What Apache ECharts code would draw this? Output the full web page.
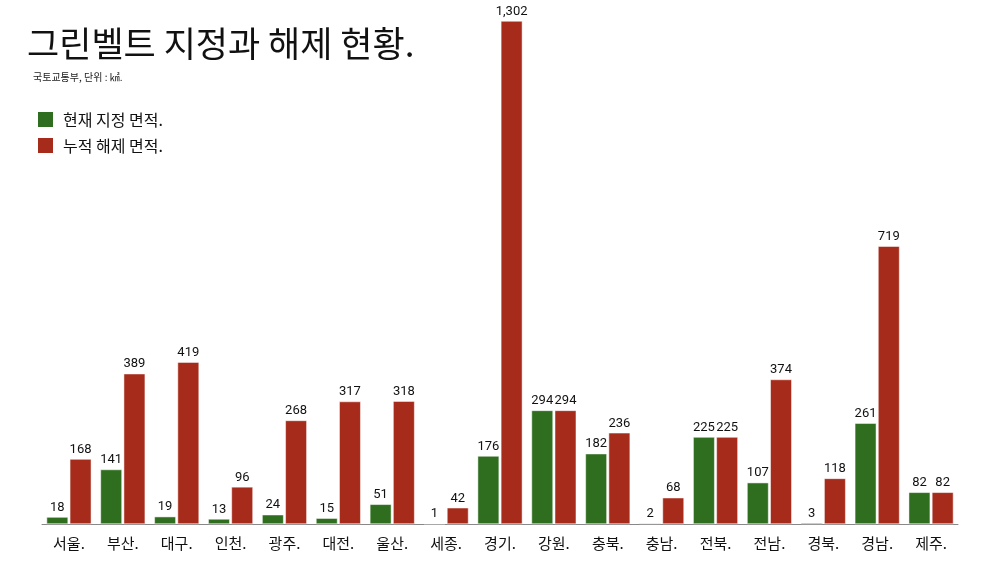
<!DOCTYPE html>
<html>
<head>
<meta charset="utf-8">
<script src="https://cdn.jsdelivr.net/npm/echarts@6/dist/echarts.min.js"></script>
<style>
    html, body { margin: 0; padding: 0; background: #fff; }
    #chart { width: 1000px; height: 563px; }
</style>
</head>
<body>
<div id="chart"></div>
<script>
// Data
var regions = ['서울.', '부산.', '대구.', '인천.', '광주.', '대전.', '울산.', '세종.', '경기.', '강원.', '충북.', '충남.', '전북.', '전남.', '경북.', '경남.', '제주.'];
var designated = [18, 141, 19, 13, 24, 15, 51, 1, 176, 294, 182, 2, 225, 107, 3, 261, 82];
var released = [168, 389, 419, 96, 268, 317, 318, 42, 1302, 294, 236, 68, 225, 374, 118, 719, 82];

var chart = echarts.init(document.getElementById('chart'));
var font = 'Roboto, "Noto Sans CJK KR", sans-serif';
var krFont = '"Noto Sans CJK KR", sans-serif';

var barLabel = {
    show: true,
    position: 'top',
    distance: 3,
    color: '#111',
    fontSize: 13,
    fontFamily: font,
    formatter: function(p) { return p.value.toLocaleString('en-US'); }
};

chart.setOption({
    animation: false,
    color: ['#2f6e1f', '#a62b1a'],
    textStyle: { fontFamily: font },
    title: [
        {
            text: '그린벨트 지정과 해제 현황.',
            left: 22,
            top: 21,
            textStyle: { fontSize: 35, fontWeight: 'normal', color: '#111', fontFamily: krFont }
        },
        {
            text: '국토교통부, 단위 : ㎢.',
            left: 28,
            top: 67,
            textStyle: { fontSize: 10, fontWeight: 'normal', color: '#222', fontFamily: krFont }
        }
    ],
    legend: {
        orient: 'vertical',
        left: 36,
        top: 110,
        padding: 0,
        itemWidth: 17,
        itemHeight: 17,
        itemGap: 7,
        icon: 'rect',
        textStyle: { fontSize: 16, color: '#111', fontFamily: krFont, padding: [0, 0, 0, 4] },
        data: ['현재 지정 면적.', '누적 해제 면적.']
    },
    grid: { left: 42, right: 42, top: 21, bottom: 39 },
    xAxis: {
        type: 'category',
        data: regions,
        axisTick: { show: false },
        axisLine: { lineStyle: { color: '#888', width: 1 } },
        axisLabel: { fontSize: 15, color: '#111', margin: 12, fontFamily: krFont }
    },
    yAxis: {
        type: 'value',
        min: 0,
        max: 1302,
        show: false,
        splitLine: { show: false }
    },
    series: [
        {
            name: '현재 지정 면적.',
            type: 'bar',
            data: designated,
            barGap: '8%',
            barCategoryGap: '17%',
            itemStyle: { borderColor: '#fff', borderWidth: 0.5 },
            label: barLabel
        },
        {
            name: '누적 해제 면적.',
            type: 'bar',
            data: released,
            itemStyle: { borderColor: '#fff', borderWidth: 0.5 },
            label: barLabel
        }
    ]
});
</script>
</body>
</html>
